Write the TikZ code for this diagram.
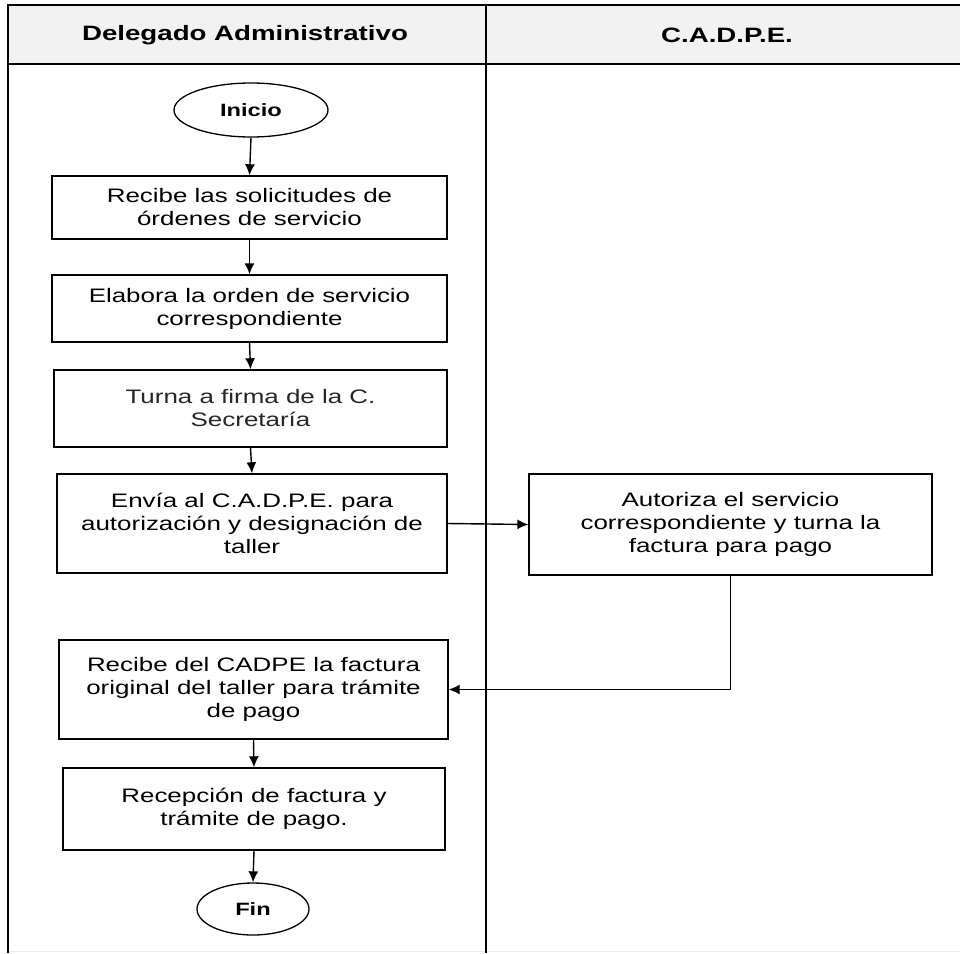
\documentclass[tikz,border=0pt]{standalone}
\usepackage{fontspec}
\setmainfont{Liberation Sans}[FakeStretch=1.33]
\usetikzlibrary{shapes.geometric,arrows.meta}
\definecolor{hdrfill}{HTML}{F2F2F2}
\definecolor{faint}{HTML}{EBEBEB}
\tikzset{
  procbox/.style={draw=black, line width=1.4pt, rectangle, align=center, inner sep=2pt,
    font=\fontsize{19.5}{23}\selectfont},
  term/.style={draw=black, line width=1.3pt, ellipse, inner sep=0pt,
    font=\fontsize{17.8}{20}\selectfont\bfseries},
  hdr/.style={font=\fontsize{20.8}{24}\selectfont\bfseries, inner sep=0pt},
  flow/.style={line width=1.4pt, -{Latex[length=11pt,width=10pt]}},
  lane/.style={line width=2.8pt}
}
\begin{document}
\begin{tikzpicture}[x=1pt,y=-1pt]
\useasboundingbox (0,0) rectangle (960,953);
% header band
\fill[hdrfill] (8,5) rectangle (962,64);
\draw[faint, line width=1pt] (8,951) -- (962,951);
\draw[lane] (962,5) -- (8,5) -- (8,953);
\draw[lane] (8,64) -- (962,64);
\draw[lane] (486,5) -- (486,953);
\node[hdr] (h1) at (245,35) {Delegado Administrativo};
\node[hdr] (h2) at (727,35) {C.A.D.P.E.};
% nodes
\node[term, minimum width=154pt, minimum height=54pt] (ini) at (251,110) {Inicio};
\node[procbox, minimum width=395pt, minimum height=63pt] (b1) at (249.5,207.5) {Recibe las solicitudes de\\órdenes de servicio};
\node[procbox, minimum width=395pt, minimum height=67pt] (b2) at (249.5,308.5) {Elabora la orden de servicio\\correspondiente};
\node[procbox, minimum width=393pt, minimum height=77pt, text=black!85] (b3) at (250.5,408.5) {Turna a firma de la C.\\Secretaría};
\node[procbox, minimum width=390pt, minimum height=99pt] (b4) at (252,523.5) {Envía al C.A.D.P.E. para\\autorización y designación de\\taller};
\node[procbox, minimum width=403pt, minimum height=101pt] (aut) at (730.5,524.5) {Autoriza el servicio\\correspondiente y turna la\\factura para pago};
\node[procbox, minimum width=389pt, minimum height=99pt] (b5) at (253.5,689.5) {Recibe del CADPE la factura\\original del taller para trámite\\de pago};
\node[procbox, minimum width=382pt, minimum height=82pt] (b6) at (254,809) {Recepción de factura y\\trámite de pago.};
\node[term, minimum width=112pt, minimum height=52pt] (fin) at (253,909) {Fin};
% connectors
\draw[flow] (ini.south) -- (b1.north);
\draw[flow] (b1.south) -- (b2.north);
\draw[flow] (b2.south) -- (b3.north);
\draw[flow] (b3.south) -- (b4.north);
\draw[flow] (b4.east) -- (aut.west);
\draw[flow] (aut.south) |- (b5.east);
\draw[flow] (b5.south) -- (b6.north);
\draw[flow] (b6.south) -- (fin.north);
\end{tikzpicture}
\end{document}
